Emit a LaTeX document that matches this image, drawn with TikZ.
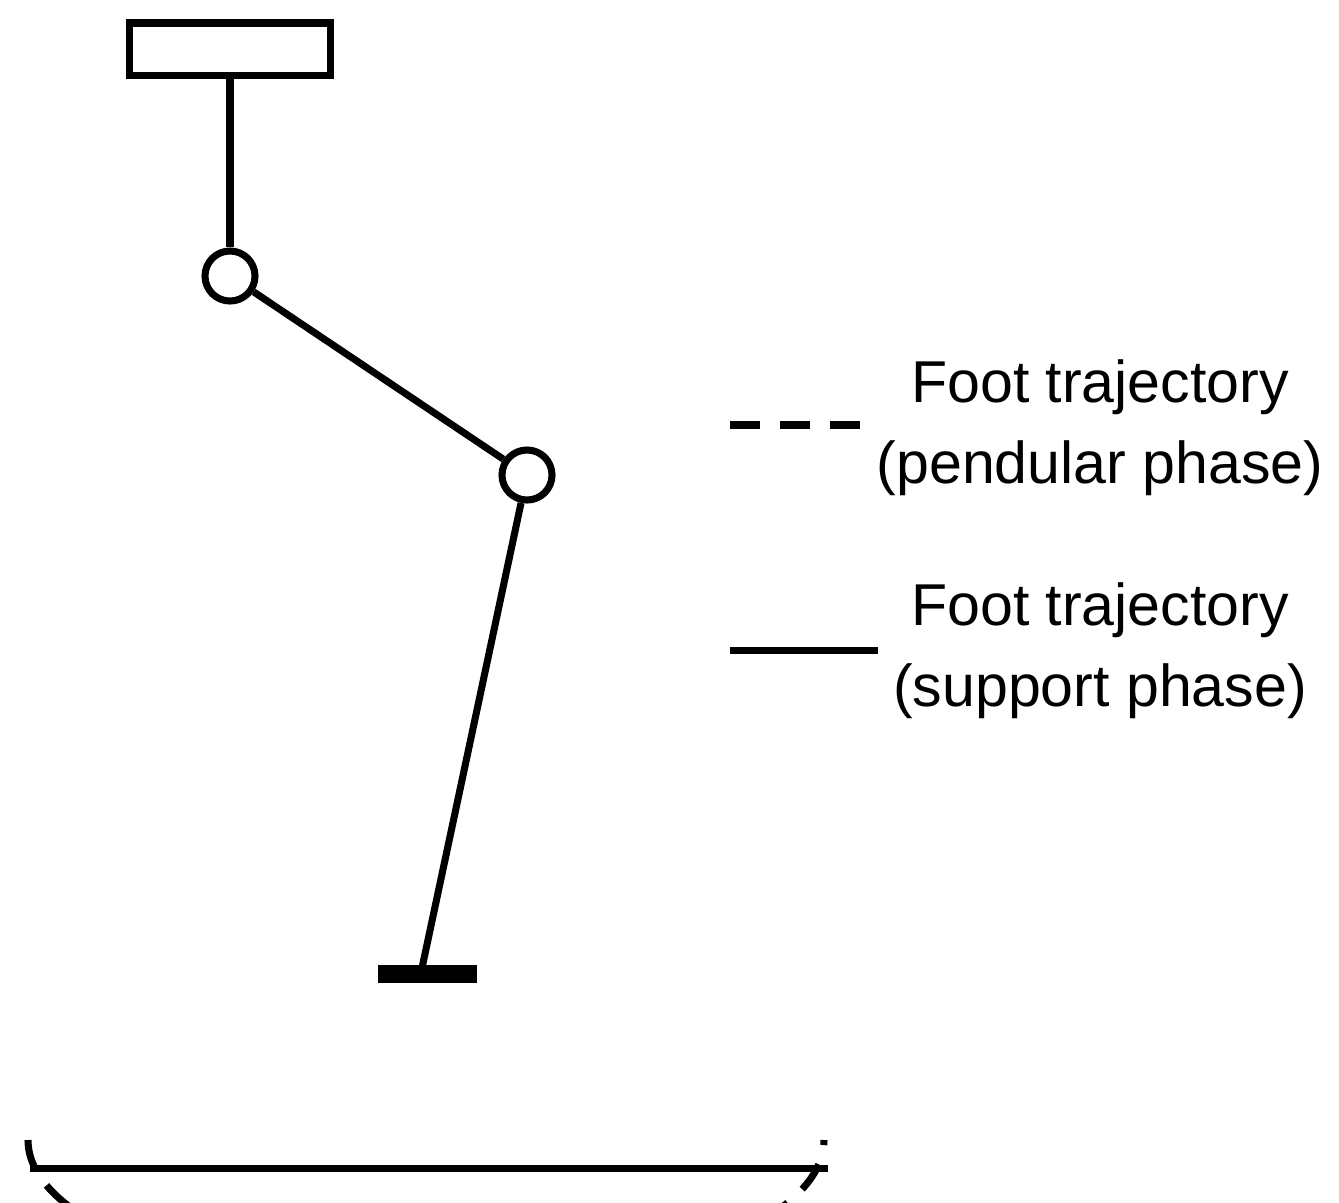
\documentclass[tikz,border=0pt]{standalone}
\usepackage{fontspec}
\setmainfont{Liberation Sans}
\usetikzlibrary{positioning}
\tikzstyle{link} = [line width=2pt]
\tikzstyle{joint} = [circle, draw, line width=2pt, fill=white, minimum size=0.5cm, inner sep=0pt]
\tikzstyle{swing} = [line width=2pt, dash pattern=on 0.3cm off 0.2cm]
\tikzstyle{legend} = [align=center, font=\fontsize{16.8}{23}\selectfont]
\begin{document}
\begin{tikzpicture}[x=0.01cm,y=-0.01cm]
  \useasboundingbox (0,0) rectangle (1339,1202);
  \node (torso) [draw, line width=2pt, minimum width=2.0cm, minimum height=0.52cm, inner sep=0pt] at (230,49) {};
  \node (hip) [joint] at (230,276) {};
  \node (knee) [joint] at (527,475) {};
  \coordinate (ankle) at (422,968);
  \draw [link] (torso) -- (hip);
  \draw [link] (hip) -- (knee);
  \draw [link] (knee) -- (ankle);
  \draw [line width=5pt] (378,974) -- (477,974);
  % foot trajectories
  \draw [swing] (28,1140) arc[start angle=180, end angle=0, x radius=398, y radius=150];
  \draw [link] (30,1168) -- (828,1168);
  % legend
  \coordinate (l1a) at (730,425);
  \coordinate (l1b) at (878,425);
  \draw [swing] (l1a) -- (l1b);
  \node (t1) [legend] at (1100,428) {Foot trajectory\\(pendular phase)};
  \coordinate (l2a) at (730,650);
  \coordinate (l2b) at (878,650);
  \draw [link] (l2a) -- (l2b);
  \node (t2) [legend] at (1100,651) {Foot trajectory\\(support phase)};
\end{tikzpicture}
\end{document}
